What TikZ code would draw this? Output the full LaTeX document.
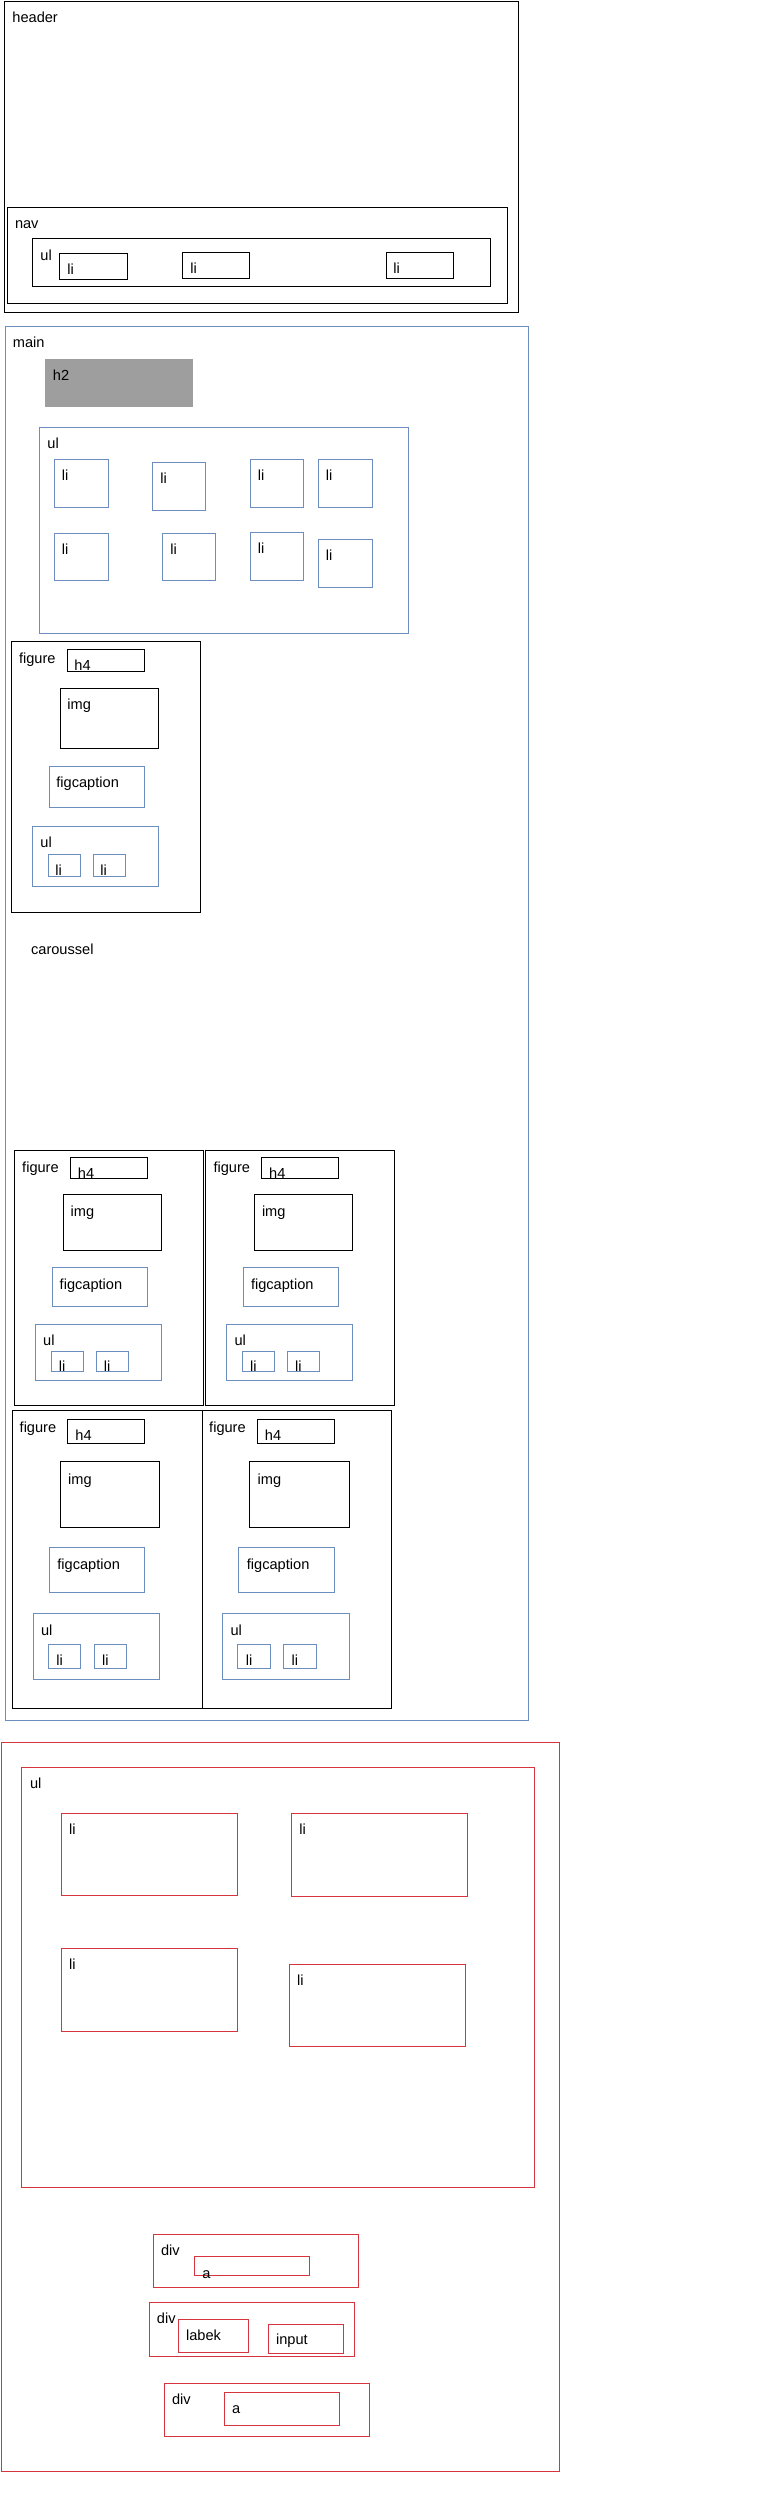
\documentclass[tikz,border=0pt]{standalone}
\usepackage{fontspec}
\setmainfont{Liberation Sans}
\definecolor{wfblue}{RGB}{108,142,191}
\definecolor{wfred}{RGB}{214,52,62}
\definecolor{wfgray}{RGB}{158,158,158}
\tikzset{
  blk/.style={draw=black, line width=0.5pt},
  blu/.style={draw=wfblue, line width=0.45pt},
  rd/.style={draw=wfred, line width=0.45pt},
  lbl/.style={anchor=base west, inner sep=0pt, font=\fontsize{7.3}{8}\selectfont},
}
\begin{document}
\begin{tikzpicture}[x=0.5pt, y=-0.5pt]
        \useasboundingbox (0,0) rectangle (774,2500);

        % header
        \draw[blk] (4,1) rectangle (518,312);
        \node[lbl] (header) at (12,22) {header};
        \draw[blk] (7.5,207) rectangle (507,303);
        \node[lbl] (nav) at (14.6,228) {nav};
        \draw[blk] (32.5,238) rectangle (490,286);
        \node[lbl] (navul) at (40,260) {ul};
        \draw[blk] (59,253) rectangle (127.5,279);
        \node[lbl] (navli1) at (67,274) {li};
        \draw[blk] (182.5,252) rectangle (249,278);
        \node[lbl] (navli2) at (190,273) {li};
        \draw[blk] (386,252) rectangle (453,278);
        \node[lbl] (navli3) at (393,273) {li};

        % main
        \draw[blu] (5,326) rectangle (528,1720);
        \node[lbl] (main) at (12.5,347) {main};
        \fill[wfgray] (45,359) rectangle (193,407);
        \node[lbl] (h2) at (52.5,380) {h2};
        \draw[blu] (39,427) rectangle (408,633);
        \node[lbl] (mainul) at (47,448) {ul};
        \foreach \xa/\ya/\xb/\yb [count=\i] in {54/459/108/507, 152.5/462/205/510, 250/459/303.5/507, 318/459/372/507,
                                               54/533/108/580, 162.5/533/215.5/580, 250/532/303.5/580, 318/539/372/587} {
            \draw[blu] (\xa,\ya) rectangle (\xb,\yb);
            \node[lbl] (mainli\i) at (\xa+7.5,\ya+21) {li};
        }

        % single figure
        \draw[blk] (11.4,641) rectangle (200.6,912);
        \node[lbl] (fig) at (18.6,663) {figure};
        \draw[blk] (67.5,649) rectangle (144.6,671);
        \node[lbl] (figh) at (74,670) {h4};
        \draw[blk] (60,688) rectangle (158.5,748);
        \node[lbl] (figimg) at (67,709) {img};
        \draw[blu] (49,766) rectangle (144.6,807);
        \node[lbl] (figcap) at (56,787) {figcaption};
        \draw[blu] (32.5,826) rectangle (158.5,886);
        \node[lbl] (figul) at (40,847) {ul};
        \draw[blu] (48,854) rectangle (80.7,876);
        \node[lbl] (figli1) at (55,875) {li};
        \draw[blu] (93,854) rectangle (125.7,876);
        \node[lbl] (figli2) at (100,875) {li};

        \node[lbl] (carou) at (30.7,954) {caroussel};

        % caroussel, upper row
        \foreach \dx [count=\i] in {0,191.3} {
          \begin{scope}[shift={(\dx,0)}]
            \draw[blk] (14.3,1150) rectangle (203,1405);
            \node[lbl] (cfig\i) at (21.8,1172) {figure};
            \draw[blk] (70.3,1157) rectangle (147.4,1178);
            \node[lbl] (ch\i) at (77.5,1178) {h4};
            \draw[blk] (63.2,1194) rectangle (161.4,1250);
            \node[lbl] (cimg\i) at (70.3,1216) {img};
            \draw[blu] (52.5,1267) rectangle (147.4,1306);
            \node[lbl] (ccap\i) at (59.3,1289) {figcaption};
            \draw[blu] (35.3,1324) rectangle (161.4,1380);
            \node[lbl] (cul\i) at (42.8,1345) {ul};
            \draw[blu] (51.4,1351) rectangle (83.2,1371);
            \node[lbl] (cli\i a) at (58.5,1371) {li};
            \draw[blu] (96.4,1351) rectangle (128.2,1371);
            \node[lbl] (cli\i b) at (103.5,1371) {li};
          \end{scope}
        }

        % caroussel, lower row
        \foreach \dx [count=\i] in {0,189.5} {
          \begin{scope}[shift={(\dx,0)}]
            \draw[blk] (12.5,1410) rectangle (202,1708);
            \node[lbl] (dfig\i) at (19.3,1432) {figure};
            \draw[blk] (67.5,1419) rectangle (144.6,1443);
            \node[lbl] (dh\i) at (75,1440) {h4};
            \draw[blk] (60.3,1461) rectangle (159.6,1527);
            \node[lbl] (dimg\i) at (67.8,1484) {img};
            \draw[blu] (49.3,1547) rectangle (144.6,1592);
            \node[lbl] (dcap\i) at (57,1569) {figcaption};
            \draw[blu] (33.2,1613) rectangle (159.6,1679);
            \node[lbl] (dul\i) at (40.7,1635) {ul};
            \draw[blu] (48.2,1644) rectangle (80.7,1668);
            \node[lbl] (dli\i a) at (56,1665) {li};
            \draw[blu] (94.2,1644) rectangle (126.7,1668);
            \node[lbl] (dli\i b) at (101.7,1665) {li};
          \end{scope}
        }

        % footer
        \draw[rd] (1.5,1742) rectangle (559.4,2471);
        \draw[rd] (21.5,1767) rectangle (534.6,2187);
        \node[lbl] (ful) at (29.6,1788) {ul};
        \foreach \xa/\ya/\xb/\yb [count=\i] in {61.4/1813/237.5/1895, 291.6/1813/467.7/1896,
                                               61.4/1948/237.5/2031, 289.3/1964/465.5/2046} {
            \draw[rd] (\xa,\ya) rectangle (\xb,\yb);
            \node[lbl] (fli\i) at (\xa+7.4,\ya+21) {li};
        }
        \draw[rd] (153.6,2234) rectangle (358.5,2287);
        \node[lbl] (div1) at (160.6,2255) {div};
        \draw[rd] (194.3,2256) rectangle (309.3,2275);
        \node[lbl] (a1) at (202,2278) {a};
        \draw[rd] (149.5,2302) rectangle (354.5,2356);
        \node[lbl] (div2) at (156.5,2323) {div};
        \draw[rd] (178.3,2319) rectangle (248.3,2352);
        \node[lbl] (labek) at (185.7,2340) {labek};
        \draw[rd] (268.6,2324) rectangle (343.4,2353);
        \node[lbl] (input) at (275.7,2344) {input};
        \draw[rd] (164.3,2383) rectangle (369.3,2436);
        \node[lbl] (div3) at (171.7,2404) {div};
        \draw[rd] (224.6,2392) rectangle (339.3,2425);
        \node[lbl] (a2) at (231.6,2413) {a};
\end{tikzpicture}
\end{document}
